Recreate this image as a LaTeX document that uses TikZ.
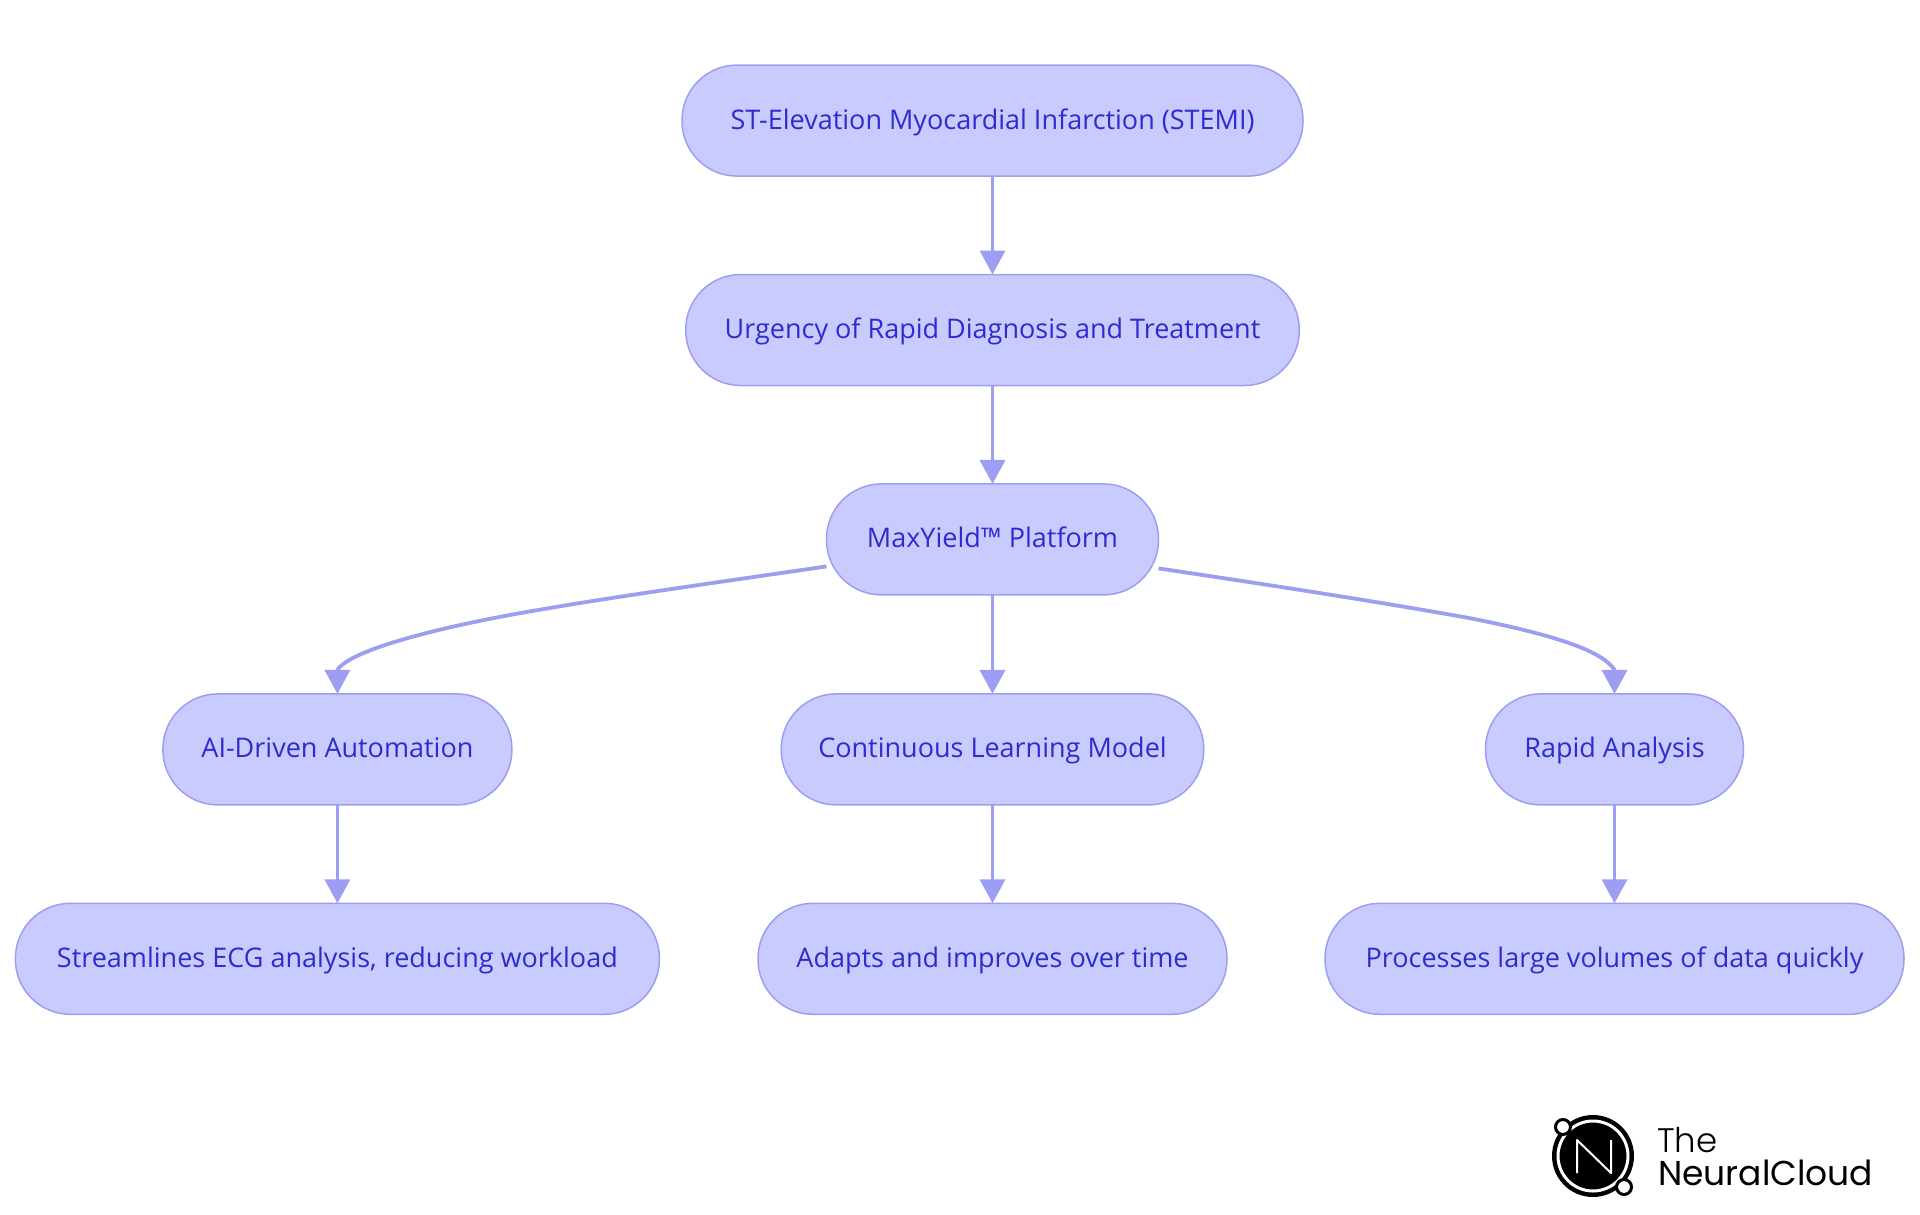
\documentclass[tikz,border=0pt]{standalone}
\usepackage{fontspec}
\usepackage{color}
\setmainfont{Open Sans}
\newfontfamily\logofont{Poppins}
\newfontfamily\logothin{Poppins Light}
\usetikzlibrary{arrows.meta}
\definecolor{boxfill}{HTML}{C9CAFD}
\definecolor{boxline}{HTML}{9C9EF2}
\definecolor{boxtext}{HTML}{2C2CCF}

\begin{document}
\begin{tikzpicture}[x=1pt,y=-1pt]
      \tikzstyle{flowbox}=[rectangle,draw=boxline,fill=boxfill,line width=1.5pt,rounded corners=55pt,minimum height=111pt,outer sep=0pt,inner sep=0pt,text=boxtext,text height=23pt,text depth=6pt,font=\fontsize{27}{32}\selectfont]
      \tikzstyle{flowline}=[draw=boxline,line width=3.8pt,-{Triangle[length=24pt,width=25pt]}]
      \tikzstyle{logotext}=[inner sep=0pt,anchor=base west,text=black]
      \useasboundingbox (0,0) rectangle (1920,1215);
      \node[flowbox,minimum width=621pt] (stemi) at (992.5,120.6) {ST-Elevation Myocardial Infarction (STEMI)};
      \node[flowbox,minimum width=613.5pt] (urgency) at (992.5,330) {Urgency of Rapid Diagnosis and Treatment};
      \node[flowbox,minimum width=332pt] (maxyield) at (992.5,539.4) {MaxYield™ Platform};
      \node[flowbox,minimum width=349pt] (automation) at (337.4,749.4) {AI-Driven Automation};
      \node[flowbox,minimum width=422.5pt] (learning) at (992.5,749.4) {Continuous Learning Model};
      \node[flowbox,minimum width=258pt] (analysis) at (1614.5,749.4) {Rapid Analysis};
      \node[flowbox,minimum width=644pt] (streamlines) at (337.4,958.8) {Streamlines ECG analysis, reducing workload};
      \node[flowbox,minimum width=469pt] (adapts) at (992.5,958.8) {Adapts and improves over time};
      \node[flowbox,minimum width=579pt] (processes) at (1614.5,958.8) {Processes large volumes of data quickly};
      \coordinate (automationin) at ([yshift=24pt]automation.north);
      \coordinate (analysisin) at ([yshift=24pt]analysis.north);
      \draw[flowline] (stemi) -- (urgency);
      \draw[flowline] (urgency) -- (maxyield);
      \draw[flowline] (maxyield) -- (learning);
      \draw[flowline] (automation) -- (streamlines);
      \draw[flowline] (learning) -- (adapts);
      \draw[flowline] (analysis) -- (processes);
      \draw[flowline] ([yshift=-27pt]maxyield.west) .. controls (720,582) and (620,596) .. (550,608) .. controls (440,626) and (350,650) .. (automationin) -- (automation.north);
      \draw[flowline] ([yshift=-29pt]maxyield.east) .. controls (1270,585) and (1380,602) .. (1469,618) .. controls (1550,634) and (1602,650) .. (analysisin) -- (analysis.north);
      % logo
      \fill[black] (1593,1156) circle (41);
      \draw[white,line width=3pt] (1593,1156) circle (35);
      \draw[white,line width=2pt,line join=round] (1577,1173) -- (1577,1140) -- (1611,1173) -- (1611,1140);
      \draw[black,fill=white,line width=3pt] (1563,1127) circle (7.5);
      \draw[black,fill=white,line width=3pt] (1624,1187) circle (7.5);
      \node[logotext,font=\logothin\fontsize{34}{36}\selectfont] (logothe) at (1657,1152) {The};
      \node[logotext,font=\logofont\fontsize{34.5}{36}\selectfont] (logoname) at (1658,1185) {NeuralCloud};
\end{tikzpicture}
\end{document}
